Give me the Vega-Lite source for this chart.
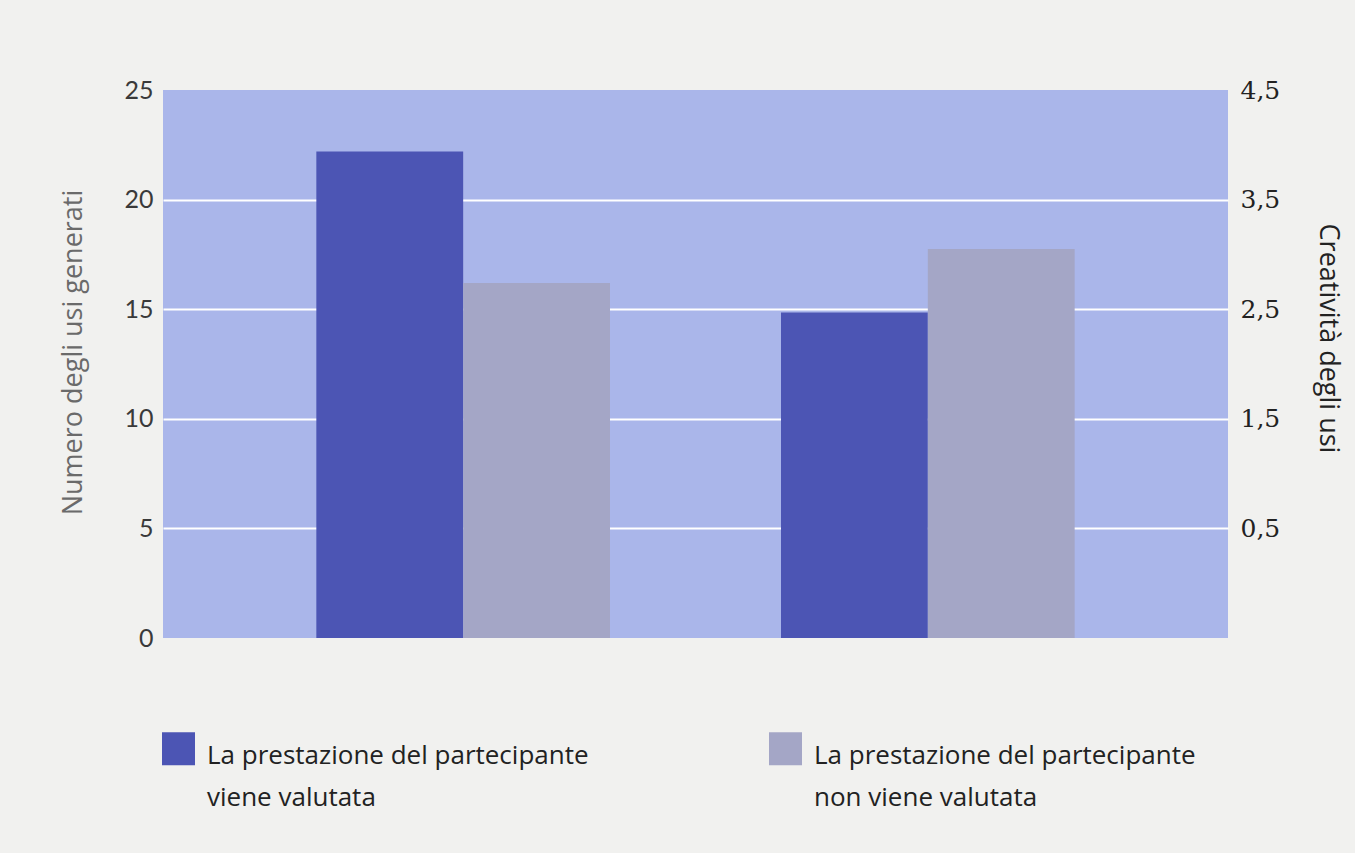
{
  "$schema": "https://vega.github.io/schema/vega-lite/v6.json",
  "width": 1065,
  "height": 548,
  "autosize": {"type": "none"},
  "padding": {"left": 163, "top": 90, "right": 127, "bottom": 215},
  "background": "#f1f1ef",
  "config": {
    "view": {"fill": "#aab6ea", "stroke": null},
    "font": "Open Sans"
  },
  "data": {
    "values": [
      {"grp": "Numero degli usi generati", "cond": "La prestazione del partecipante viene valutata", "value": 22.2},
      {"grp": "Numero degli usi generati", "cond": "La prestazione del partecipante non viene valutata", "value": 16.2},
      {"grp": "Creatività degli usi", "cond": "La prestazione del partecipante viene valutata", "value": 2.47},
      {"grp": "Creatività degli usi", "cond": "La prestazione del partecipante non viene valutata", "value": 3.05}
    ]
  },
  "encoding": {
    "x": {
      "field": "grp", "type": "nominal",
      "sort": ["Numero degli usi generati", "Creatività degli usi"],
      "scale": {"paddingInner": 0.368, "paddingOuter": 0.33},
      "axis": null
    },
    "xOffset": {
      "field": "cond", "type": "nominal",
      "sort": ["La prestazione del partecipante viene valutata", "La prestazione del partecipante non viene valutata"],
      "scale": {"paddingInner": 0, "paddingOuter": 0}
    },
    "color": {
      "field": "cond", "type": "nominal",
      "sort": ["La prestazione del partecipante viene valutata", "La prestazione del partecipante non viene valutata"],
      "scale": {"range": ["#4c55b4", "#a4a6c6"]},
      "legend": {
        "title": null,
        "orient": "none",
        "legendX": -1,
        "legendY": 642,
        "direction": "horizontal",
        "symbolType": "square",
        "symbolSize": 1089,
        "symbolStrokeWidth": 0,
        "symbolOpacity": 1,
        "labelFont": "Open Sans",
        "labelFontSize": 26,
        "labelColor": "#222222",
        "labelLimit": 700,
        "labelOffset": 12,
        "labelBaseline": "top",
        "columnPadding": 180,
        "labelExpr": "split(replace(datum.label, 'partecipante ', 'partecipante|'), '|')",
        "encode": {"labels": {"update": {"lineHeight": {"value": 42}, "dy": {"value": -6}}}}
      }
    }
  },
  "layer": [
    {
      "transform": [{"filter": "datum.grp == 'Numero degli usi generati'"}],
      "mark": {"type": "bar"},
      "encoding": {
        "y": {
          "field": "value", "type": "quantitative",
          "scale": {"domain": [0, 25], "nice": false, "zero": true},
          "axis": {
            "orient": "left",
            "title": "Numero degli usi generati",
            "titleFont": "Open Sans",
            "titleFontSize": 27,
            "titleFontWeight": "normal",
            "titleColor": "#6a6a6a",
            "titlePadding": 36,
            "titleY": 262,
            "values": [0, 5, 10, 15, 20, 25],
            "labelFont": "Lato",
            "labelFontSize": 25,
            "labelColor": "#3a3a3a",
            "labelPadding": 10,
            "ticks": false,
            "domain": false,
            "grid": true,
            "gridColor": "#ffffff",
            "gridWidth": 2,
            "gridOpacity": {"condition": {"test": "datum.value == 0 || datum.value == 25", "value": 0}, "value": 1}
          }
        }
      }
    },
    {
      "transform": [{"filter": "datum.grp == 'Creatività degli usi'"}],
      "mark": {"type": "bar"},
      "encoding": {
        "y": {
          "field": "value", "type": "quantitative",
          "scale": {"domain": [-0.5, 4.5], "nice": false, "zero": false},
          "axis": {
            "orient": "right",
            "title": "Creatività degli usi",
            "titleFont": "Open Sans",
            "titleFontSize": 27,
            "titleFontWeight": "normal",
            "titleColor": "#222222",
            "titlePadding": 34,
            "titleY": 248,
            "values": [0.5, 1.5, 2.5, 3.5, 4.5],
            "format": ".1f",
            "labelExpr": "replace(datum.label, '.', ',')",
            "labelFont": "DejaVu Serif",
            "labelFontSize": 25,
            "labelColor": "#222222",
            "labelPadding": 12,
            "ticks": false,
            "domain": false,
            "grid": false
          }
        },
        "y2": {"datum": -0.5}
      }
    }
  ],
  "resolve": {"scale": {"y": "independent"}, "axis": {"y": "independent"}}
}
